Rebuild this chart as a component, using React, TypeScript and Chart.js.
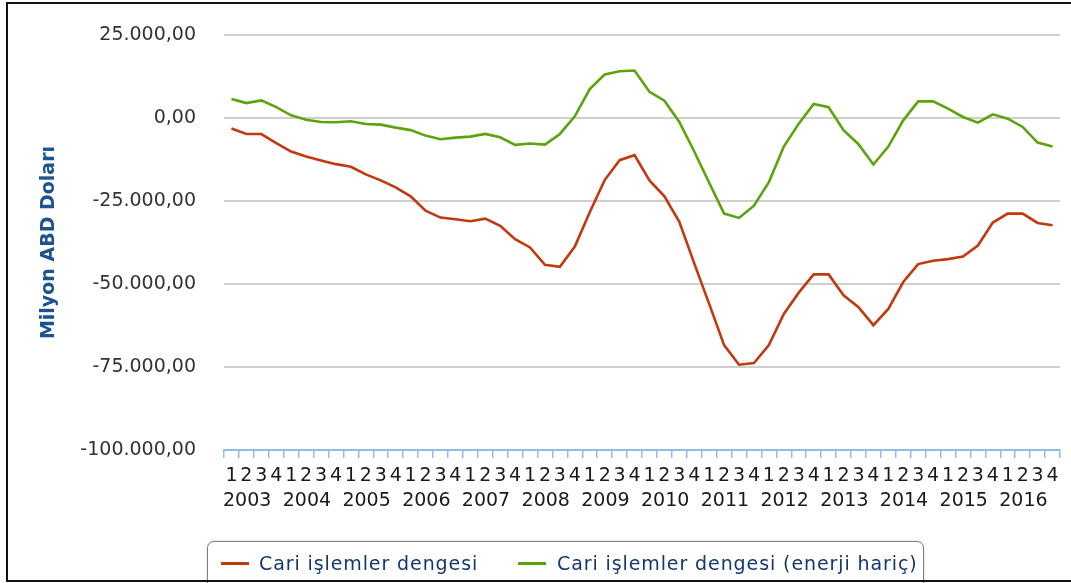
import React, { useEffect, useRef } from "react";
import { Chart, registerables } from "chart.js";

Chart.register(...registerables);

const years = ["2003", "2004", "2005", "2006", "2007", "2008", "2009", "2010", "2011", "2012", "2013", "2014", "2015", "2016"];
const quarterLabels = ["1", "2", "3", "4"];
const categories = years.flatMap((y) => quarterLabels.map((q) => `${y}-${q}`));

const cariDenge = [
  -3160, -4840, -4840, -7600, -10100, -11600, -12800, -13900, -14700, -17000,
  -18800, -20900, -23600, -27900, -30000, -30500, -31100, -30300, -32500, -36500,
  -39000, -44200, -44800, -38700, -28400, -18700, -12700, -11200, -18800, -23600,
  -31300, -43800, -56000, -68400, -74300, -73800, -68400, -59000, -52600, -47100,
  -47100, -53400, -57000, -62400, -57500, -49400, -44000, -43000, -42500, -41700,
  -38400, -31500, -28800, -28800, -31600, -32300,
];

const cariDengeEnerjiHaric = [
  5700, 4500, 5300, 3300, 800, -500, -1200, -1300, -1000, -1800,
  -2000, -2900, -3650, -5300, -6400, -5900, -5600, -4800, -5800, -8100,
  -7700, -8000, -4800, 500, 8700, 13100, 14100, 14300, 7900, 5200,
  -1200, -10100, -19500, -28800, -30100, -26400, -19300, -8600, -1700, 4250,
  3260, -3650, -7900, -14000, -8600, -700, 5000, 5000, 2800, 300,
  -1400, 1100, -200, -2700, -7400, -8600,
];

const yTicks = [25000, 0, -25000, -50000, -75000, -100000];
const seriesNames = ["Cari işlemler dengesi", "Cari işlemler dengesi (enerji hariç)"];
const yTitle = "Milyon ABD Doları";

const RED = "#c0390f";
const GREEN = "#5ca30c";
const FONT = "'DejaVu Sans', sans-serif";

function fmt(v: number): string {
  const neg = v < 0;
  const abs = Math.abs(Math.round(v));
  const s = String(abs).replace(/\B(?=(\d{3})+(?!\d))/g, ".");
  return (neg ? "-" : "") + s + ",00";
}

const yearPlugin = {
  id: "yearRow",
  afterDraw(chart: any) {
    const xs = chart.scales.x;
    const ctx = chart.ctx;
    const step = xs.width / categories.length;
    ctx.save();
    ctx.font = `19px ${FONT}`;
    ctx.fillStyle = "#1a1a1a";
    ctx.textAlign = "left";
    ctx.textBaseline = "middle";
    years.forEach((y, k) => {
      const x = xs.getPixelForValue(k * 4) - step / 2;
      ctx.fillText(y, x - 1, 501);
    });
    ctx.restore();
  },
};

export default function App() {
  const ref = useRef<HTMLCanvasElement | null>(null);

  useEffect(() => {
    if (!ref.current) return;
    const chart = new Chart(ref.current, {
      type: "line",
      data: {
        labels: categories,
        datasets: [
          {
            label: seriesNames[0],
            data: cariDenge,
            borderColor: RED,
            backgroundColor: RED,
            borderWidth: 2.6,
            pointRadius: 0,
            tension: 0,
          },
          {
            label: seriesNames[1],
            data: cariDengeEnerjiHaric,
            borderColor: GREEN,
            backgroundColor: GREEN,
            borderWidth: 2.6,
            pointRadius: 0,
            tension: 0,
          },
        ],
      },
      options: {
        responsive: false,
        animation: false,
        devicePixelRatio: 1,
        layout: { padding: { left: 0, right: 11, top: 35, bottom: 0 } },
        plugins: { legend: { display: false }, tooltip: { enabled: false } },
        scales: {
          x: {
            offset: true,
            grid: {
              display: true,
              drawOnChartArea: false,
              drawTicks: true,
              tickLength: 8,
              color: "#8fbde9",
              lineWidth: 1.5,
              offset: true,
            },
            border: { display: true, color: "#8fbde9", width: 2 },
            ticks: {
              autoSkip: false,
              maxRotation: 0,
              padding: 7,
              color: "#1a1a1a",
              font: { family: FONT, size: 19 },
              callback: (_v: any, idx: number) => quarterLabels[idx % 4],
            },
            afterFit: (s: any) => {
              s.height = 133;
            },
          },
          y: {
            min: yTicks[yTicks.length - 1],
            max: yTicks[0],
            ticks: {
              stepSize: 25000,
              padding: 5,
              color: "#333333",
              font: { family: FONT, size: 19 },
              callback: (v: any) => fmt(Number(v)),
            },
            grid: {
              color: "#cfcfcf",
              lineWidth: 2,
              drawTicks: true,
              tickLength: 23,
              tickColor: "rgba(0,0,0,0)",
            },
            border: { display: false },
            title: {
              display: true,
              text: yTitle,
              color: "#1b5291",
              font: { family: FONT, size: 19, weight: "bold" },
              padding: { top: 38, bottom: 0 },
            },
            afterFit: (s: any) => {
              s.width = 224;
            },
          },
        },
      },
      plugins: [yearPlugin],
    });
    return () => chart.destroy();
  }, []);

  const legendText: React.CSSProperties = {
    position: "absolute",
    top: 551,
    fontFamily: FONT,
    fontSize: 19,
    letterSpacing: "0.9px",
    lineHeight: "24px",
    color: "#13386e",
    whiteSpace: "nowrap",
  };

  return (
    <div
      style={{
        position: "fixed",
        left: 0,
        top: 0,
        width: 1071,
        height: 583,
        overflow: "hidden",
        background: "#ffffff",
      }}
    >
      <canvas ref={ref} width={1071} height={583} style={{ position: "absolute", left: 0, top: 0, width: 1071, height: 583 }} />
      <div
        style={{
          position: "absolute",
          left: 207,
          top: 541,
          width: 715,
          height: 60,
          border: "1px solid #808080",
          borderRadius: 7,
          background: "#ffffff",
          boxShadow: "0 0 2px rgba(0,0,0,0.25)",
        }}
      />
      <div style={{ position: "absolute", left: 221, top: 562, width: 28, height: 3, background: RED }} />
      <span style={{ ...legendText, left: 259 }}>{seriesNames[0]}</span>
      <div style={{ position: "absolute", left: 518, top: 562, width: 28, height: 3, background: GREEN }} />
      <span style={{ ...legendText, left: 557 }}>{seriesNames[1]}</span>
      <div style={{ position: "absolute", left: 6, top: 2, width: 1065, height: 2, background: "#111" }} />
      <div style={{ position: "absolute", left: 6, top: 2, width: 2, height: 580, background: "#111" }} />
      <div style={{ position: "absolute", left: 6, top: 580, width: 1065, height: 2, background: "#111" }} />
    </div>
  );
}
